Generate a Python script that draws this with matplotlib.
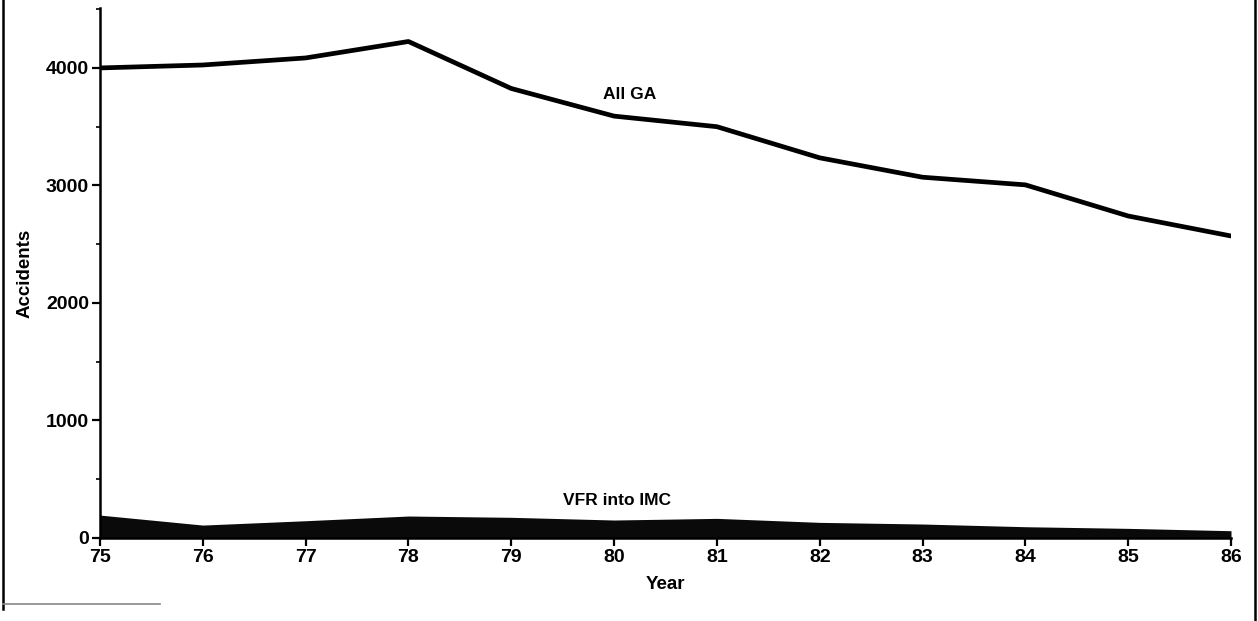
import matplotlib
matplotlib.use("Agg")
import matplotlib.pyplot as plt
from matplotlib.ticker import MultipleLocator
from matplotlib.lines import Line2D

years = [75, 76, 77, 78, 79, 80, 81, 82, 83, 84, 85, 86]
all_ga = [4000, 4025, 4085, 4225, 3825, 3590, 3500, 3235, 3070, 3005, 2740, 2570]
vfr_imc = [195, 110, 147, 187, 176, 153, 167, 133, 119, 96, 82, 62]
year_labels = [str(y) for y in years]

plt.rcParams['font.family'] = ['Liberation Sans', 'DejaVu Sans']
plt.rcParams['font.weight'] = 'bold'

fig = plt.figure(figsize=(12.58, 6.21), dpi=100)
ax = fig.add_axes([100/1258, 1-538/621, (1231-100)/1258, (538-8)/621])

ax.plot(years, all_ga, color='black', lw=3.4, solid_capstyle='round', solid_joinstyle='round')
ax.fill_between(years, 0, vfr_imc, color='#0a0a0a', lw=0)

ax.set_xlim(75, 86)
ax.set_ylim(0, 4510)
ax.set_xticks(years)
ax.set_xticklabels(year_labels)
ax.yaxis.set_major_locator(MultipleLocator(1000))
ax.yaxis.set_minor_locator(MultipleLocator(500))

for s in ['top', 'right']:
    ax.spines[s].set_visible(False)
for s in ['left', 'bottom']:
    ax.spines[s].set_linewidth(1.8)

ax.tick_params(axis='both', which='major', direction='out', length=6, width=1.6,
               labelsize=14, pad=2)
ax.tick_params(axis='y', which='minor', direction='out', length=3, width=1.2)
for lab in ax.get_xticklabels() + ax.get_yticklabels():
    lab.set_fontweight('bold')

ax.set_xlabel('Year', fontsize=13.5, fontweight='bold', labelpad=7)
ax.set_ylabel('Accidents', fontsize=13.5, fontweight='bold', labelpad=9)

ax.text(80.15, 3770, 'All GA', fontsize=12.5, fontweight='bold', ha='center', va='center')
ax.text(80.03, 320, 'VFR into IMC', fontsize=12.5, fontweight='bold', ha='center', va='center')

# outer frame of the scanned page
fig.add_artist(Line2D([3/1258, 3/1258], [0.02, 1.0], color='black', lw=1.8, transform=fig.transFigure))
fig.add_artist(Line2D([1255/1258, 1255/1258], [0.0, 1.0], color='black', lw=1.8, transform=fig.transFigure))
fig.add_artist(Line2D([3/1258, 160/1258], [1-604/621, 1-604/621], color='#888888', lw=1.2, transform=fig.transFigure))

fig.savefig('out.png', dpi=100, facecolor='white')
